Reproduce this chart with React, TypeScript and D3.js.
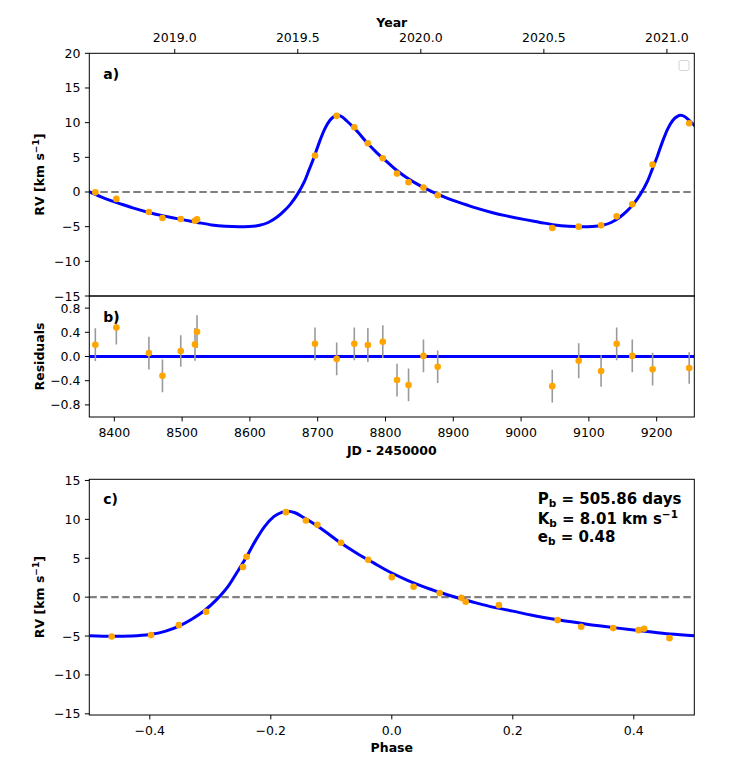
import React from "react";
import * as d3 from "d3";

// observations (JD - 2450000), RV in km/s
const jd = [8372, 8403, 8451, 8471, 8498, 8519, 8522, 8696, 8728, 8754, 8774, 8796, 8817, 8834, 8856, 8877, 9046, 9085, 9118, 9141, 9164, 9194, 9248];
const rv = [-0.05, -1.0, -2.89, -3.75, -3.9, -4.14, -3.95, 5.25, 10.98, 9.34, 7.03, 4.87, 2.65, 1.4, 0.63, -0.48, -5.2, -5.0, -4.81, -3.51, -1.78, 3.95, 9.92];
const resid = [0.195, 0.48, 0.056, -0.32, 0.09, 0.2, 0.41, 0.21, -0.04, 0.21, 0.19, 0.245, -0.39, -0.47, 0.01, -0.17, -0.49, -0.07, -0.24, 0.21, 0.01, -0.21, -0.19];
const residErr = [0.27, 0.28, 0.27, 0.27, 0.26, 0.27, 0.27, 0.27, 0.27, 0.27, 0.28, 0.27, 0.27, 0.27, 0.27, 0.27, 0.27, 0.29, 0.26, 0.27, 0.27, 0.27, 0.26];

// phase-folded observations
const phase = [-0.463, -0.398, -0.352, -0.307, -0.246, -0.24, -0.175, -0.142, -0.123, -0.084, -0.039, 0.0, 0.036, 0.079, 0.115, 0.122, 0.177, 0.274, 0.313, 0.366, 0.408, 0.417, 0.459];
const rvPhase = [-5.05, -4.88, -3.6, -1.88, 3.86, 5.19, 10.93, 9.86, 9.3, 6.99, 4.8, 2.57, 1.33, 0.52, -0.09, -0.6, -1.03, -2.95, -3.81, -3.98, -4.24, -4.07, -5.27];

// model curve
const modelPhase = [-0.5, -0.46, -0.43, -0.4, -0.375, -0.35, -0.33, -0.31, -0.29, -0.27, -0.255, -0.24, -0.225, -0.21, -0.195, -0.182, -0.172, -0.16, -0.145, -0.13, -0.113, -0.086, -0.058, -0.03, 0.0, 0.025, 0.052, 0.08, 0.107, 0.135, 0.16, 0.2, 0.23, 0.277, 0.32, 0.37, 0.415, 0.46, 0.5];
const modelRV = [-4.95, -5.02, -4.98, -4.8, -4.4, -3.65, -2.8, -1.75, -0.35, 1.45, 3.3, 5.2, 7.3, 9.1, 10.35, 10.9, 11.05, 10.85, 10.2, 9.5, 8.6, 7.05, 5.65, 4.4, 3.1, 2.2, 1.35, 0.6, -0.05, -0.65, -1.15, -1.8, -2.3, -2.95, -3.45, -3.95, -4.35, -4.75, -4.95];

const period = 505.86;
const t0 = 8816.7;

// ticks
const rvTicksA = [-15, -10, -5, 0, 5, 10, 15, 20];
const residTicks = [-0.8, -0.4, 0.0, 0.4, 0.8];
const jdTicks = [8400, 8500, 8600, 8700, 8800, 8900, 9000, 9100, 9200];
const yearTicks = [2019.0, 2019.5, 2020.0, 2020.5, 2021.0];
const rvTicksC = [-15, -10, -5, 0, 5, 10, 15];
const phaseTicks = [-0.4, -0.2, 0.0, 0.2, 0.4];

const W = 747;
const H = 769;
const L = 89.3;
const R = 694.3;
const FONT = "DejaVu Sans";
const TICK = 4.4;

const minus = (s: string) => s.replace("-", "\u2212");
const fmtInt = (v: number) => minus(d3.format("d")(v));
const fmt1 = (v: number) => minus(d3.format(".1f")(v));

const App: React.FC = () => {
  const x = d3.scaleLinear().domain([8363.1, 9255.5]).range([L, R]);
  const jdToYear = (j: number) => 2019 + (j - 8489.1) / 363;
  const xYear = d3.scaleLinear().domain(x.domain().map(jdToYear)).range([L, R]);
  const yA = d3.scaleLinear().domain([-15, 20]).range([296, 53.3]);
  const yB = d3.scaleLinear().domain([-1, 1]).range([417, 296]);
  const xC = d3.scaleLinear().domain([-0.5, 0.5]).range([L, R]);
  const yC = d3.scaleLinear().domain([-15.15, 15.15]).range([715, 479.3]);

  // model over time, tiling the folded curve over several cycles
  const modelT: [number, number][] = [];
  [-1, 0, 1].forEach((n) => {
    modelPhase.forEach((p, i) => {
      if (p === 0.5 && n < 1) return;
      modelT.push([t0 + (p + n) * period, modelRV[i]]);
    });
  });
  const lineA = d3
    .line<[number, number]>()
    .x((d) => x(d[0]))
    .y((d) => yA(d[1]))
    .curve(d3.curveMonotoneX);
  const lineC = d3
    .line<number>()
    .x((d) => xC(d))
    .y((_, i) => yC(modelRV[i]))
    .curve(d3.curveMonotoneX);

  const yAxis = (scale: d3.ScaleLinear<number, number>, ticks: number[], f: (v: number) => string) =>
    ticks.map((t) => (
      <g key={t}>
        <line x1={L - TICK} x2={L} y1={scale(t)} y2={scale(t)} stroke="black" strokeWidth={1} />
        <text x={L - TICK - 4.4} y={scale(t)} dy="0.36em" textAnchor="end" fontSize={12.5}>
          {f(t)}
        </text>
      </g>
    ));

  const xAxisBottom = (scale: d3.ScaleLinear<number, number>, ticks: number[], y0: number, f: (v: number) => string) =>
    ticks.map((t) => (
      <g key={t}>
        <line x1={scale(t)} x2={scale(t)} y1={y0} y2={y0 + TICK} stroke="black" strokeWidth={1} />
        <text x={scale(t)} y={y0 + 19.5} textAnchor="middle" fontSize={12.5}>
          {f(t)}
        </text>
      </g>
    ));

  return (
    <svg
      width={W}
      height={H}
      style={{ position: "absolute", left: 0, top: 0, background: "white" }}
      fontFamily={FONT}
    >
      <defs>
        <clipPath id="clipA">
          <rect x={L} y={53.3} width={R - L} height={296 - 53.3} />
        </clipPath>
        <clipPath id="clipB">
          <rect x={L} y={296} width={R - L} height={417 - 296} />
        </clipPath>
        <clipPath id="clipC">
          <rect x={L} y={479.3} width={R - L} height={715 - 479.3} />
        </clipPath>
      </defs>

      {/* panel a */}
      <g clipPath="url(#clipA)">
        <line x1={L} x2={R} y1={yA(0)} y2={yA(0)} stroke="#808080" strokeWidth={2.2} strokeDasharray="7.5 3.5" />
        <path d={lineA(modelT) ?? ""} fill="none" stroke="#0000ff" strokeWidth={3} />
        {jd.map((j, i) => (
          <circle key={i} cx={x(j)} cy={yA(rv[i])} r={3.3} fill="#ffa500" />
        ))}
      </g>
      <rect x={L} y={53.3} width={R - L} height={296 - 53.3} fill="none" stroke="black" strokeWidth={1} />
      {yAxis(yA, rvTicksA, fmtInt)}
      {yearTicks.map((t) => (
        <g key={t}>
          <line x1={xYear(t)} x2={xYear(t)} y1={53.3} y2={53.3 - TICK} stroke="black" strokeWidth={1} />
          <text x={xYear(t)} y={42.3} textAnchor="middle" fontSize={12.5}>
            {fmt1(t)}
          </text>
        </g>
      ))}
      <text x={(L + R) / 2} y={27.3} textAnchor="middle" fontSize={12.5} fontWeight="bold">
        Year
      </text>
      <text x={103.3} y={79} fontSize={14} fontWeight="bold">
        a)
      </text>
      <rect x={679} y={60.5} width={10} height={10} rx={2} fill="white" stroke="#d4d4d4" strokeWidth={1} />
      <text transform={`translate(43.5,${(53.3 + 296) / 2}) rotate(-90)`} textAnchor="middle" fontSize={12.5} fontWeight="bold">
        RV [km s<tspan dy={-5} fontSize={9}>{"\u22121"}</tspan>
        <tspan dy={5}>]</tspan>
      </text>

      {/* panel b */}
      <g clipPath="url(#clipB)">
        <line x1={L} x2={R} y1={yB(0)} y2={yB(0)} stroke="#0000ff" strokeWidth={3} />
        {jd.map((j, i) => (
          <line
            key={i}
            x1={x(j)}
            x2={x(j)}
            y1={yB(resid[i] - residErr[i])}
            y2={yB(resid[i] + residErr[i])}
            stroke="#9a9a9a"
            strokeWidth={1.6}
          />
        ))}
        {jd.map((j, i) => (
          <circle key={i} cx={x(j)} cy={yB(resid[i])} r={3.3} fill="#ffa500" />
        ))}
      </g>
      <rect x={L} y={296} width={R - L} height={417 - 296} fill="none" stroke="black" strokeWidth={1} />
      {yAxis(yB, residTicks, fmt1)}
      {xAxisBottom(x, jdTicks, 417, fmtInt)}
      <text x={103.3} y={321.7} fontSize={14} fontWeight="bold">
        b)
      </text>
      <text x={(L + R) / 2} y={454.5} textAnchor="middle" fontSize={12.5} fontWeight="bold">
        JD - 2450000
      </text>
      <text transform={`translate(43.5,${(296 + 417) / 2}) rotate(-90)`} textAnchor="middle" fontSize={12.5} fontWeight="bold">
        Residuals
      </text>

      {/* panel c */}
      <g clipPath="url(#clipC)">
        <line x1={L} x2={R} y1={yC(0)} y2={yC(0)} stroke="#808080" strokeWidth={2.2} strokeDasharray="7.5 3.5" />
        <path d={lineC(modelPhase) ?? ""} fill="none" stroke="#0000ff" strokeWidth={3} />
        {phase.map((p, i) => (
          <circle key={i} cx={xC(p)} cy={yC(rvPhase[i])} r={3.3} fill="#ffa500" />
        ))}
      </g>
      <rect x={L} y={479.3} width={R - L} height={715 - 479.3} fill="none" stroke="black" strokeWidth={1} />
      {yAxis(yC, rvTicksC, fmtInt)}
      {xAxisBottom(xC, phaseTicks, 715, fmt1)}
      <text x={103.3} y={504.3} fontSize={14} fontWeight="bold">
        c)
      </text>
      <text x={(L + R) / 2} y={752} textAnchor="middle" fontSize={12.5} fontWeight="bold">
        Phase
      </text>
      <text transform={`translate(43.5,${(479.3 + 715) / 2}) rotate(-90)`} textAnchor="middle" fontSize={12.5} fontWeight="bold">
        RV [km s<tspan dy={-5} fontSize={9}>{"\u22121"}</tspan>
        <tspan dy={5}>]</tspan>
      </text>
      <g fontSize={15} fontWeight="bold">
        <text x={537.7} y={504.3}>
          P<tspan dy={3} fontSize={10.5}>b</tspan>
          <tspan dy={-3}> = 505.86 days</tspan>
        </text>
        <text x={537.7} y={523.8}>
          K<tspan dy={3} fontSize={10.5}>b</tspan>
          <tspan dy={-3}> = 8.01 km s</tspan>
          <tspan dy={-6} fontSize={10.5}>{"\u22121"}</tspan>
        </text>
        <text x={537.7} y={542}>
          e<tspan dy={3} fontSize={10.5}>b</tspan>
          <tspan dy={-3}> = 0.48</tspan>
        </text>
      </g>
    </svg>
  );
};

export default App;
